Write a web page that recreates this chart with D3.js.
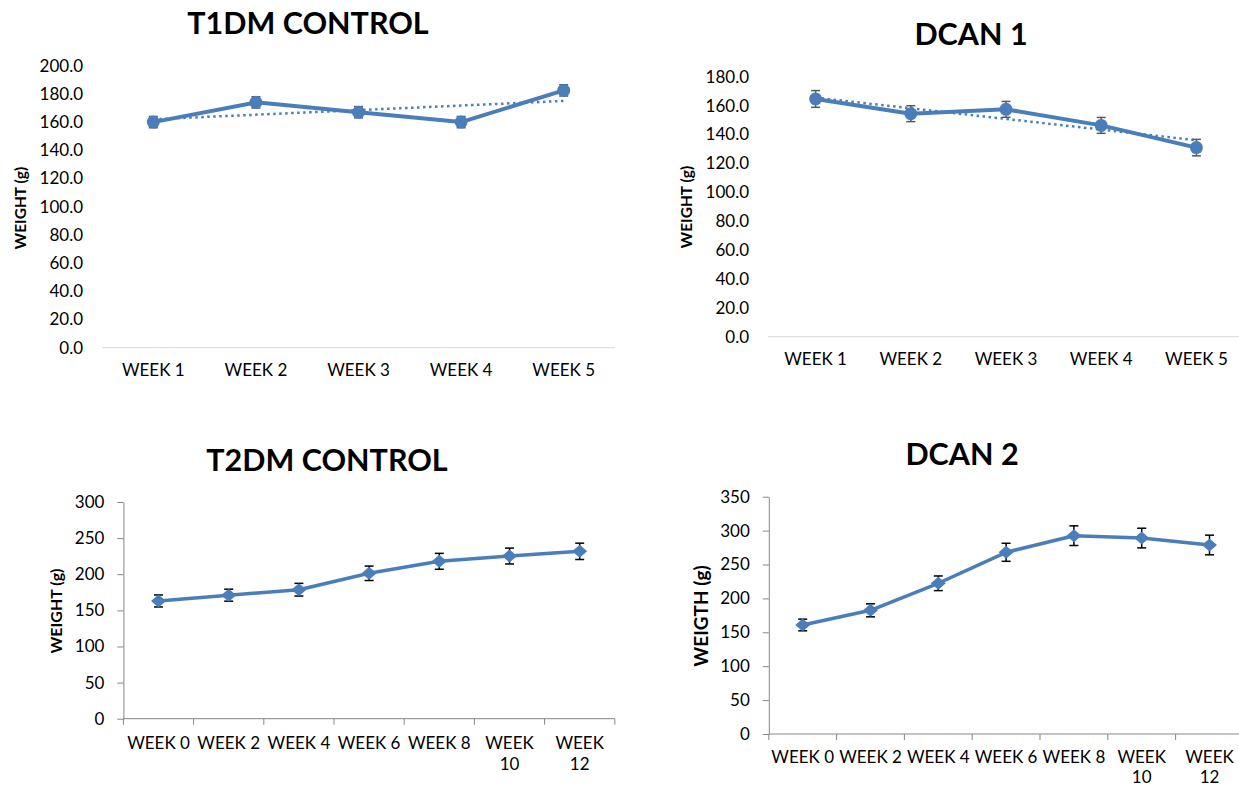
<!DOCTYPE html>
<html>
<head>
<meta charset="utf-8">
<script src="https://cdn.jsdelivr.net/npm/d3@7"></script>
<style>
  body { margin: 0; background: #fff; }
  svg text { font-family: Lato, "Open Sans", sans-serif; fill: #000; }
</style>
</head>
<body>
<div id="chart"></div>
<script>
// x categories
const weeksShort = ["WEEK 1", "WEEK 2", "WEEK 3", "WEEK 4", "WEEK 5"];
const weeksLong = ["WEEK 0", "WEEK 2", "WEEK 4", "WEEK 6", "WEEK 8", "WEEK 10", "WEEK 12"];

// T1DM control
const t1dmWeight = [160.0, 174.0, 167.0, 160.0, 182.5];
const t1dmError = [4, 4, 4, 4, 4];
const t1dmTrend = [162, 175];   // dotted trendline, start / end
const t1dmTicks = [0, 20, 40, 60, 80, 100, 120, 140, 160, 180, 200];

// DCAN 1
const dcan1Weight = [164.6, 154.4, 157.4, 146.3, 130.9];
const dcan1Error = [5.8, 5.5, 5.5, 5.5, 5.7];
const dcan1Trend = [165.5, 136];
const dcan1Ticks = [0, 20, 40, 60, 80, 100, 120, 140, 160, 180];

// T2DM control
const t2dmWeight = [163, 171, 178.6, 201.3, 217.9, 225.2, 231.7];
const t2dmError = [8.3, 8.3, 8.8, 10, 11, 11, 11.3];
const t2dmTicks = [0, 50, 100, 150, 200, 250, 300];

// DCAN 2
const dcan2Weight = [160.8, 182.4, 222.3, 268, 292.5, 289, 278.8];
const dcan2Error = [8.6, 9.6, 10.8, 13.3, 14.5, 14.5, 14.5];
const dcan2Ticks = [0, 50, 100, 150, 200, 250, 300, 350];

const blue = "#4a7ebb";

class WeightPanel {
    constructor(_svg, _cfg) {
        this.svg = _svg;
        this.cfg = _cfg;
        this.initVis();
    }

    initVis() {
        let vis = this;
        let c = vis.cfg;

        vis.g = vis.svg.append("g");

        vis.x = d3.scaleBand()
            .domain(c.weeks)
            .range([c.x0, c.x1]);

        vis.y = d3.scaleLinear()
            .domain([0, c.ticks[c.ticks.length - 1]])
            .range([c.y0, c.y1]);

        // title
        vis.g.append("text")
            .attr("x", c.titleX)
            .attr("y", c.titleY)
            .attr("text-anchor", "middle")
            .attr("font-size", c.titleSize)
            .attr("font-weight", "bold")
            .text(c.title);

        // y axis title
        vis.g.append("text")
            .attr("transform", "translate(" + c.ylabX + "," + c.ylabY + ") rotate(-90)")
            .attr("text-anchor", "middle")
            .attr("dy", "0.35em")
            .attr("font-size", c.ylabSize)
            .attr("font-weight", "bold")
            .text(c.ylabel);

        // y axis
        let yAxis = d3.axisLeft(vis.y)
            .tickValues(c.ticks)
            .tickFormat(d3.format(c.fmt))
            .tickSizeOuter(0)
            .tickSizeInner(c.boxed ? 6 : 0)
            .tickPadding(c.boxed ? 13 : 19);

        let ya = vis.g.append("g")
            .attr("transform", "translate(" + c.x0 + ",0)")
            .call(yAxis);
        ya.selectAll("text").attr("font-size", c.tickSize).attr("fill", "#000");
        ya.selectAll("line").attr("stroke", "#868686");
        if (c.boxed) {
            ya.select(".domain").attr("stroke", "#868686");
        } else {
            ya.select(".domain").remove();
        }

        // x axis line
        vis.g.append("line")
            .attr("x1", c.x0).attr("x2", c.x1)
            .attr("y1", c.y0).attr("y2", c.y0)
            .attr("stroke", c.boxed ? "#868686" : "#d9d9d9")
            .attr("stroke-width", 1);

        if (c.boxed) {
            let bounds = c.weeks.map(d => vis.x(d)).concat([c.x1]);
            vis.g.selectAll(".xtick")
                .data(bounds)
                .enter().append("line")
                .attr("class", "xtick")
                .attr("x1", d => d).attr("x2", d => d)
                .attr("y1", c.y0).attr("y2", c.y0 + 6)
                .attr("stroke", "#868686");
        }

        // x labels (two-digit weeks wrap onto a second line)
        let xl = vis.g.selectAll(".xlab")
            .data(c.weeks)
            .enter().append("text")
            .attr("class", "xlab")
            .attr("text-anchor", "middle")
            .attr("font-size", c.tickSize)
            .attr("y", c.y0 + c.xlabDy);

        xl.each(function(d) {
            let t = d3.select(this);
            let cx = vis.x(d) + vis.x.bandwidth() / 2;
            let num = d.split(" ")[1];
            if (num.length > 1) {
                t.append("tspan").attr("x", cx).text("WEEK");
                t.append("tspan").attr("x", cx).attr("dy", c.lineH).text(num);
            } else {
                t.append("tspan").attr("x", cx).text(d);
            }
        });

        vis.updateVis();
    }

    updateVis() {
        let vis = this;
        let c = vis.cfg;
        let cx = i => vis.x(c.weeks[i]) + vis.x.bandwidth() / 2;

        let pts = c.values.map((v, i) => ({ i: i, v: v, e: c.errors[i] }));

        const line = d3.line()
            .x(d => cx(d.i))
            .y(d => vis.y(d.v));

        // trendline
        if (c.trend) {
            let n = c.values.length - 1;
            vis.g.append("line")
                .attr("x1", cx(0)).attr("y1", vis.y(c.trend[0]))
                .attr("x2", cx(n)).attr("y2", vis.y(c.trend[1]))
                .attr("stroke", blue)
                .attr("stroke-width", 2.5)
                .attr("stroke-dasharray", "2.5,3.5");
        }

        // error bars
        let eb = vis.g.selectAll(".err")
            .data(pts)
            .enter().append("g")
            .attr("class", "err")
            .attr("stroke", c.errColor)
            .attr("stroke-width", 1.5);

        eb.append("line")
            .attr("x1", d => cx(d.i)).attr("x2", d => cx(d.i))
            .attr("y1", d => vis.y(d.v - d.e)).attr("y2", d => vis.y(d.v + d.e));
        eb.append("line")
            .attr("x1", d => cx(d.i) - 4.5).attr("x2", d => cx(d.i) + 4.5)
            .attr("y1", d => vis.y(d.v + d.e)).attr("y2", d => vis.y(d.v + d.e));
        eb.append("line")
            .attr("x1", d => cx(d.i) - 4.5).attr("x2", d => cx(d.i) + 4.5)
            .attr("y1", d => vis.y(d.v - d.e)).attr("y2", d => vis.y(d.v - d.e));

        vis.g.append("path")
            .datum(pts)
            .attr("fill", "none")
            .attr("stroke", blue)
            .attr("stroke-width", c.lineW)
            .attr("stroke-linejoin", "round")
            .attr("d", line);

        // markers
        if (c.marker === "circle") {
            vis.g.selectAll(".mk")
                .data(pts)
                .enter().append("circle")
                .attr("class", "mk")
                .attr("cx", d => cx(d.i))
                .attr("cy", d => vis.y(d.v))
                .attr("r", 6.5)
                .attr("fill", blue);
        } else {
            vis.g.selectAll(".mk")
                .data(pts)
                .enter().append("path")
                .attr("class", "mk")
                .attr("transform", d => "translate(" + cx(d.i) + "," + vis.y(d.v) + ")")
                .attr("d", "M0,-6.5L7.5,0L0,6.5L-7.5,0Z")
                .attr("fill", blue);
        }
    }
}

const svg = d3.select("#chart").append("svg")
    .attr("width", 1239)
    .attr("height", 787);

new WeightPanel(svg, {
    title: "T1DM CONTROL", titleX: 308, titleY: 34, titleSize: 30.5,
    ylabel: "WEIGHT (g)", ylabX: 21, ylabY: 208, ylabSize: 15.5,
    weeks: weeksShort, values: t1dmWeight, errors: t1dmError, trend: t1dmTrend,
    ticks: t1dmTicks, fmt: ".1f",
    x0: 102, x1: 615, y0: 347.7, y1: 65.7,
    tickSize: 17, xlabDy: 28, lineH: 21,
    boxed: false, marker: "circle", errColor: "#595959", lineW: 4
});

new WeightPanel(svg, {
    title: "DCAN 1", titleX: 971, titleY: 45, titleSize: 30.5,
    ylabel: "WEIGHT (g)", ylabX: 686.5, ylabY: 207, ylabSize: 15.5,
    weeks: weeksShort, values: dcan1Weight, errors: dcan1Error, trend: dcan1Trend,
    ticks: dcan1Ticks, fmt: ".1f",
    x0: 768, x1: 1244, y0: 336.7, y1: 76.7,
    tickSize: 17, xlabDy: 28, lineH: 21,
    boxed: false, marker: "circle", errColor: "#595959", lineW: 4
});

new WeightPanel(svg, {
    title: "T2DM CONTROL", titleX: 327, titleY: 470.7, titleSize: 30.5,
    ylabel: "WEIGHT (g)", ylabX: 56.5, ylabY: 611, ylabSize: 16,
    weeks: weeksLong, values: t2dmWeight, errors: t2dmError, trend: null,
    ticks: t2dmTicks, fmt: "d",
    x0: 123.4, x1: 614.8, y0: 718.7, y1: 502,
    tickSize: 17, xlabDy: 30, lineH: 21.5,
    boxed: true, marker: "diamond", errColor: "#000", lineW: 3.5
});

new WeightPanel(svg, {
    title: "DCAN 2", titleX: 962, titleY: 465, titleSize: 30.5,
    ylabel: "WEIGTH (g)", ylabX: 701, ylabY: 616, ylabSize: 19,
    weeks: weeksLong, values: dcan2Weight, errors: dcan2Error, trend: null,
    ticks: dcan2Ticks, fmt: "d",
    x0: 768.8, x1: 1243.4, y0: 734, y1: 496.7,
    tickSize: 17, xlabDy: 28.5, lineH: 20.5,
    boxed: true, marker: "diamond", errColor: "#000", lineW: 3.5
});
</script>
</body>
</html>
